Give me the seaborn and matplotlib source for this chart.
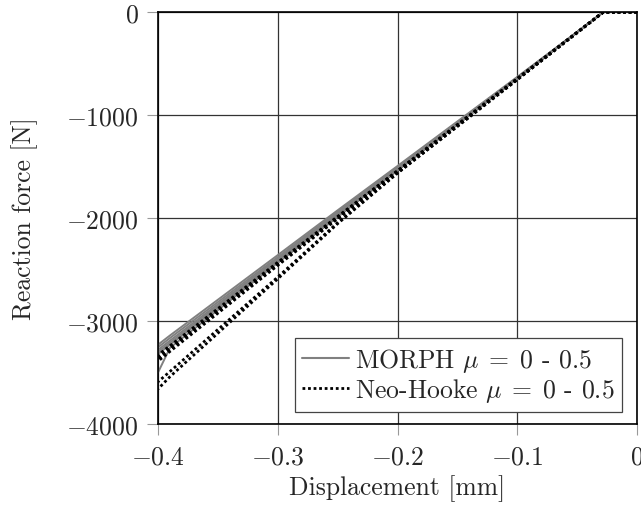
import pandas as pd
import matplotlib.pyplot as plt
import seaborn as sns
from matplotlib.lines import Line2D

# displacement points [mm]
disp = [0.0, -0.028, -0.1, -0.2, -0.25, -0.3, -0.39, -0.4]

# reaction force [N], MORPH model, friction mu = 0 ... 0.5
morph_mu00 = [0, 0, -630, -1495, -1925, -2360, -3140, -3230]
morph_mu01 = [0, 0, -635, -1505, -1940, -2380, -3165, -3255]
morph_mu02 = [0, 0, -640, -1515, -1955, -2395, -3190, -3280]
morph_mu03 = [0, 0, -643, -1525, -1965, -2405, -3210, -3300]
morph_mu04 = [0, 0, -646, -1535, -1980, -2420, -3230, -3320]
morph_mu05 = [0, 0, -648, -1540, -1990, -2435, -3260, -3500]

# reaction force [N], Neo-Hooke model, friction mu = 0 ... 0.5
neo_mu00 = [0, 0, -645, -1540, -1985, -2430, -3240, -3330]
neo_mu01 = [0, 0, -648, -1545, -1993, -2440, -3258, -3350]
neo_mu02 = [0, 0, -650, -1550, -2000, -2450, -3275, -3370]
neo_mu03 = [0, 0, -653, -1555, -2008, -2460, -3295, -3390]
neo_mu04 = [0, 0, -655, -1560, -2045, -2573, -3490, -3590]
neo_mu05 = [0, 0, -658, -1565, -2055, -2590, -3540, -3660]

morph = [morph_mu00, morph_mu01, morph_mu02, morph_mu03, morph_mu04, morph_mu05]
neo = [neo_mu00, neo_mu01, neo_mu02, neo_mu03, neo_mu04, neo_mu05]

rows = []
for model, curves in (('MORPH', morph), ('Neo-Hooke', neo)):
    for i, force in enumerate(curves):
        for d, f in zip(disp, force):
            rows.append({'model': model, 'curve': f'{model}_{i}', 'disp': d, 'force': f})
df = pd.DataFrame(rows)

sns.set_theme(style='white')
plt.rcParams['font.family'] = ['cmr10', 'DejaVu Serif']
plt.rcParams['mathtext.fontset'] = 'cm'
plt.rcParams['axes.formatter.use_mathtext'] = True
plt.rcParams['axes.unicode_minus'] = True

fs = 18.5

fig = plt.figure(figsize=(6.41, 5.06), dpi=100)
ax = fig.add_axes([0.2465, 0.160, 0.7473, 0.8143])

sns.lineplot(data=df[df.model == 'MORPH'], x='disp', y='force', units='curve',
             estimator=None, sort=False, color='#808080', linewidth=1.4, ax=ax)
sns.lineplot(data=df[df.model == 'Neo-Hooke'], x='disp', y='force', units='curve',
             estimator=None, sort=False, color='black', linewidth=2.0,
             linestyle=(0, (1, 1)), ax=ax)

ax.set_xlim(-0.4, 0)
ax.set_ylim(-4000, 0)
ax.set_xticks([-0.4, -0.3, -0.2, -0.1, 0])
ax.set_xticklabels(['$-0.4$', '$-0.3$', '$-0.2$', '$-0.1$', '$0$'])
ax.set_yticks([-4000, -3000, -2000, -1000, 0])
ax.set_yticklabels(['$-4000$', '$-3000$', '$-2000$', '$-1000$', '$0$'])
ax.grid(True, color='#333333', linewidth=0.9)
ax.tick_params(axis='both', direction='out', length=8, width=0.8, color='#999999',
               labelsize=fs, bottom=True, left=True)
ax.tick_params(axis='x', pad=7)
ax.tick_params(axis='y', pad=6)
for s in ax.spines.values():
    s.set_color('black')
    s.set_linewidth(1.2)

ax.set_xlabel('Displacement [mm]', fontsize=fs, labelpad=4)
ax.set_ylabel('Reaction force [N]', fontsize=fs, labelpad=20)

handles = [Line2D([], [], color='#808080', linewidth=1.5),
           Line2D([], [], color='black', linewidth=2.0, linestyle=(0, (1, 1)))]
labels = [r'MORPH $\mu\;=\;0$ - 0.5', r'Neo-Hooke $\mu\;=\;0$ - 0.5']
leg = ax.legend(handles, labels, loc='lower right', bbox_to_anchor=(0.969, 0.029),
                fontsize=fs, frameon=True, fancybox=False, framealpha=1,
                edgecolor='#444444', borderpad=0.3, labelspacing=0.1,
                handlelength=1.8, handletextpad=0.25, borderaxespad=0)
leg.get_frame().set_linewidth(0.9)

fig.savefig('out.png', dpi=100)
